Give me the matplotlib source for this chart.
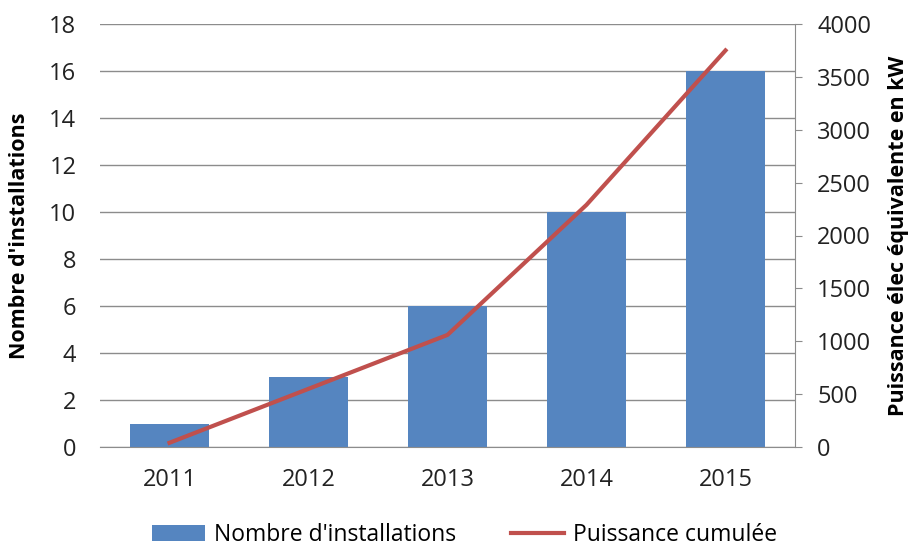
import matplotlib
matplotlib.use("Agg")
import matplotlib.pyplot as plt
import numpy as np

# data
years = ["2011", "2012", "2013", "2014", "2015"]
installations = [1, 3, 6, 10, 16]
puissance = [40, 550, 1060, 2290, 3750]

bar_color = "#5585c0"
line_color = "#c0504d"
grid_color = "#8c8c8c"

plt.rcParams['font.family'] = ['Open Sans', 'DejaVu Sans']

W, H = 910, 549
fig = plt.figure(figsize=(W / 100, H / 100), dpi=100)
ax = fig.add_axes([100 / W, 1 - 447 / H, (795 - 100) / W, (447 - 24) / H])

x = np.arange(len(years))
bars = ax.bar(x, installations, width=0.57, color=bar_color, zorder=2,
              label="Nombre d'installations")
ax.set_xlim(-0.5, len(years) - 0.5)
ax.set_ylim(0, 18)
ax.set_yticks(range(0, 19, 2))
ax.set_xticks(x)
ax.set_xticklabels(years)
ax.yaxis.grid(True, color=grid_color, linewidth=1)
ax.set_axisbelow(True)
for s in ["top", "right", "left"]:
    ax.spines[s].set_visible(False)
ax.spines["bottom"].set_color(grid_color)
ax.tick_params(axis="both", length=0, labelsize=17, colors="#222222")
ax.tick_params(axis="y", pad=17)
ax.tick_params(axis="x", pad=15)
ax.set_ylabel("Nombre d'installations", fontsize=15.5, fontweight="bold", labelpad=14)

ax2 = ax.twinx()
line, = ax2.plot(x, puissance, color=line_color, linewidth=3, zorder=3,
                 label="Puissance cumulée")
ax2.set_ylim(0, 4000)
ax2.set_yticks(range(0, 4001, 500))
for s in ["top", "left", "bottom"]:
    ax2.spines[s].set_visible(False)
ax2.spines["right"].set_color(grid_color)
ax2.tick_params(axis="y", direction="out", length=5, color=grid_color,
                labelsize=17, labelcolor="#222222", pad=11)
ax2.set_ylabel("Puissance élec équivalente en kW", fontsize=15.5,
               fontweight="bold", rotation=90, labelpad=12)

fig.legend([bars, line], ["Nombre d'installations", "Puissance cumulée"],
           loc="center", bbox_to_anchor=(465 / W, 1 - 535 / H), ncol=2,
           frameon=False, fontsize=16.5, handlelength=2.3, handleheight=0.7,
           columnspacing=2.4, handletextpad=0.4, borderpad=0.2)

fig.savefig("out.png", dpi=100)
